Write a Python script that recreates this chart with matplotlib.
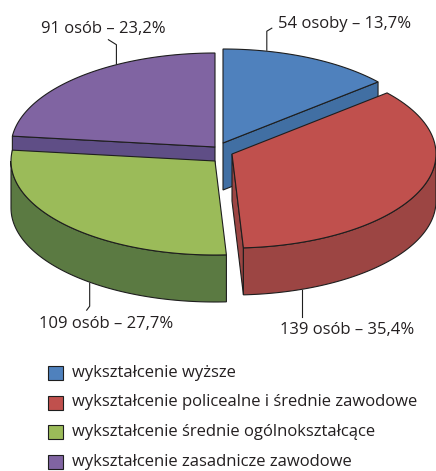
import numpy as np
import matplotlib.pyplot as plt
from matplotlib.patches import Polygon, Rectangle

# dane
labels = ['wykształcenie wyższe',
          'wykształcenie policealne i średnie zawodowe',
          'wykształcenie średnie ogólnokształcące',
          'wykształcenie zasadnicze zawodowe']
counts = [54, 139, 109, 91]
words = ['osoby', 'osób', 'osób', 'osób']

top_colors = ['#4F81BD', '#C0504D', '#9BBB59', '#8064A2']
side_colors = ['#416FA3', '#9C4543', '#5B7A42', '#5F4E86']

# geometria (piksele)
CX, CY = 215, 147
RX, RY, DEPTH = 204, 94, 47
offsets = [(8, -4), (17, 7), (0, 14), (0, 0)]
leader_ang = [77.6, -70, -127.9, 118.9]
edge = '#1e1e1e'
lw = 0.8
fs = 12
tcol = '#231f20'

plt.rcParams['font.family'] = ['Open Sans', 'DejaVu Sans']

fig = plt.figure(figsize=(4.36, 4.71), dpi=100)
ax = fig.add_axes([0, 0, 1, 1])
ax.set_xlim(0, 436)
ax.set_ylim(471, 0)
ax.axis('off')

total = sum(counts)
fracs = [c / total for c in counts]
bounds = np.pi / 2 - 2 * np.pi * np.concatenate([[0], np.cumsum(fracs)])


def pt(c, a, dz=0):
    return (c[0] + RX * np.cos(a), c[1] - RY * np.sin(a) + dz)


def arc(c, a1, a2, dz=0, n=80):
    return [pt(c, a, dz) for a in np.linspace(a1, a2, n)]


def draw_slice(i):
    t1, t2 = bounds[i], bounds[i + 1]
    c = (CX + offsets[i][0], CY + offsets[i][1])
    # sciany boczne
    if np.cos(t1) < 0:
        p = pt(c, t1)
        ax.add_patch(Polygon([c, p, (p[0], p[1] + DEPTH), (c[0], c[1] + DEPTH)],
                             fc=side_colors[i], ec=edge, lw=lw))
    if np.cos(t2) > 0:
        p = pt(c, t2)
        ax.add_patch(Polygon([c, p, (p[0], p[1] + DEPTH), (c[0], c[1] + DEPTH)],
                             fc=side_colors[i], ec=edge, lw=lw))
    a1, a2 = min(t1, 0), max(t2, -np.pi)
    if a1 > a2:
        wall = arc(c, a1, a2) + arc(c, a2, a1, DEPTH)
        ax.add_patch(Polygon(wall, fc=side_colors[i], ec=edge, lw=lw))
    # gora
    ax.add_patch(Polygon([c] + arc(c, t1, t2), fc=top_colors[i], ec=edge, lw=lw))
    return c


centers = {}
for i in [3, 0, 2, 1]:
    centers[i] = draw_slice(i)

# etykiety
for i in range(4):
    pct = f'{100 * fracs[i]:.1f}'.replace('.', ',')
    txt = f'{counts[i]} {words[i]} – {pct}%'
    a = np.radians(leader_ang[i])
    c = centers[i]
    if np.sin(a) > 0:
        x, y = pt(c, a)
        y -= 1
        y2 = y - 19
        if np.cos(a) > 0:
            kx, ky = x + 5, y2 - 3
            ax.plot([x, x, kx], [y, y2, ky], color=edge, lw=lw)
            ax.text(kx + 6, ky - 4, txt, ha='left', va='center', fontsize=fs, color=tcol)
        else:
            kx, ky = x - 8, y2 - 5
            ax.plot([x, x, kx], [y, y2, ky], color=edge, lw=lw)
            ax.text(kx + 57, ky - 11, txt, ha='right', va='center', fontsize=fs, color=tcol)
    else:
        x, y = pt(c, a, DEPTH)
        y += 1
        if np.cos(a) > 0:
            ax.plot([x, x], [y, y + 27], color=edge, lw=lw)
            ax.text(x - 22, y + 40, txt, ha='left', va='center', fontsize=fs, color=tcol)
        else:
            ax.plot([x, x, x - 3], [y, y + 23, y + 27], color=edge, lw=lw)
            ax.text(x - 51, y + 41, txt, ha='left', va='center', fontsize=fs, color=tcol)

# legenda
for i, lab in enumerate(labels):
    yy = 373 + i * 29.5
    ax.add_patch(Rectangle((48, yy - 7), 15, 14, fc=top_colors[i], ec=edge, lw=lw))
    ax.text(72, yy, lab, ha='left', va='center', fontsize=fs, color=tcol)

fig.savefig('out.png', dpi=100)
